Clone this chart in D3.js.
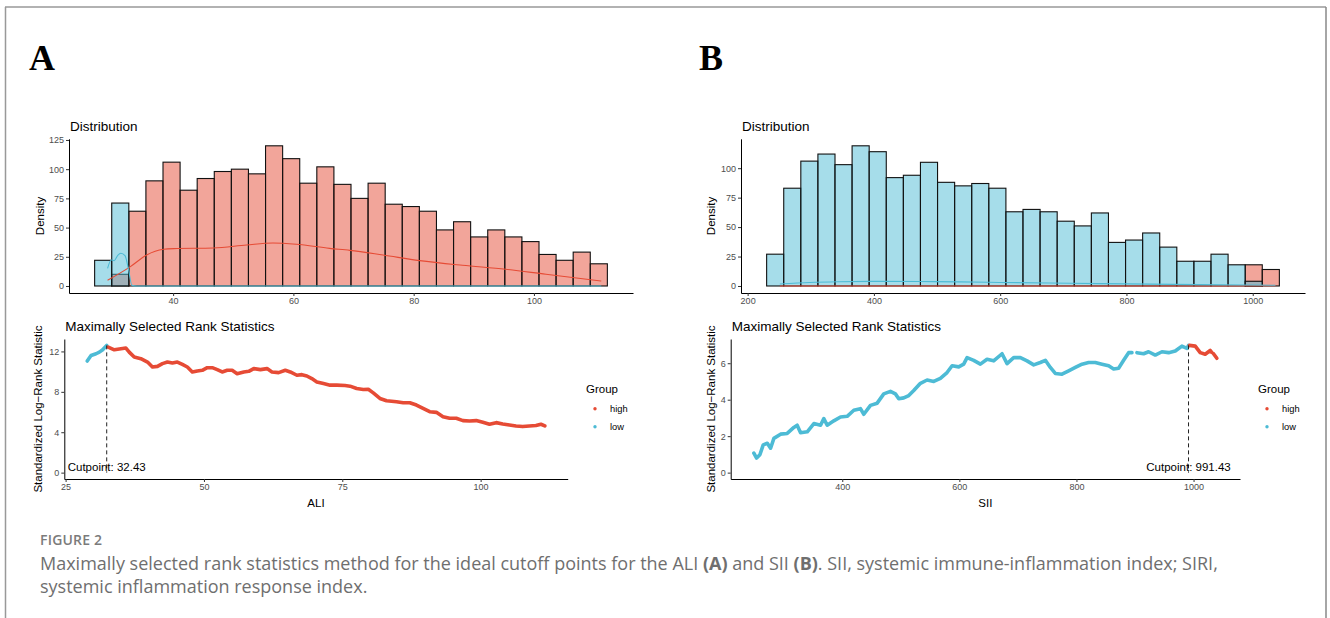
<!DOCTYPE html>
<html>
<head>
<meta charset="utf-8">
<script src="https://cdn.jsdelivr.net/npm/d3@7"></script>
<style>
  body { margin: 0; background: #fff; }
  svg text { font-family: "Liberation Sans", Arial, sans-serif; }
</style>
</head>
<body>
<svg id="fig" width="1330" height="618"></svg>
<script>
// ---- histogram data (30 bins each, counts) ----
const aliBinStart = 26.95;
const aliBinWidth = 2.842;
const aliLowCounts = [22, 71, 0, 0, 0, 0, 0, 0, 0, 0, 0, 0, 0, 0, 0, 0, 0, 0, 0, 0, 0, 0, 0, 0, 0, 0, 0, 0, 0, 0];
const aliHighCounts = [0, 10, 64, 90, 106, 82, 92, 98, 100, 96, 120, 109, 88, 102, 87, 75, 88, 70, 68, 64, 48, 55, 42, 48, 42, 38, 27, 22, 29, 19];

const siiBinStart = 230.1;
const siiBinWidth = 27.07;
const siiLowCounts = [27, 83, 106, 112, 103, 119, 114, 92, 94, 105, 88, 85, 87, 83, 63, 65, 63, 55, 51, 62, 37, 39, 45, 33, 21, 21, 27, 18, 4, 0];
const siiHighCounts = [0, 0, 0, 0, 0, 0, 0, 0, 0, 0, 0, 0, 0, 0, 0, 0, 0, 0, 0, 0, 0, 0, 0, 0, 0, 0, 0, 0, 18, 14];

// density curves drawn over the histograms [x, y]
const aliHighDensity = [[29.1, 4.9], [32.9, 16.6], [35.6, 26.5], [38.4, 31.4], [40.1, 32], [46.7, 32.5], [52.2, 35.1], [56.6, 36.8], [60.5, 35.7], [66.0, 32.2], [69.4, 30.5], [74.9, 26.5], [81.0, 21.7], [88.1, 17.7], [95.3, 14.3], [102.0, 10], [111.2, 4.3]];
const aliLowDensity = [[29.1, 15.1], [29.7, 22.3], [30.2, 21.7], [30.8, 26.3], [31.3, 28], [32.0, 26], [32.6, 13.7], [33.15, 0.5], [34, 0], [111.2, 0]];
const siiLowDensity = [[251, 1.7], [298.6, 3.0], [346, 3.6], [409, 3.9], [472.6, 3.8], [536, 3.5], [599, 3.0], [678, 2.5], [757, 2.0], [836.6, 1.6], [915.7, 1.2], [994.8, 0.8], [1036, 0.6]];
const siiHighDensity = [[251, 0], [900, 0], [1036, 0.3]];

// ---- maximally selected rank statistics [x, statistic] ----
const aliCutpoint = 32.43;
const aliRankLow = [[28.9, 11.05], [29.6, 11.6], [30.5, 11.77], [31.1, 11.93], [31.7, 12.16], [32.43, 12.6]];
const aliRankHigh = [[32.7, 12.43], [33.8, 12.16], [35.0, 12.26], [35.9, 12.33], [36.5, 11.93], [37.4, 11.44], [38.6, 11.28], [39.8, 10.95], [40.7, 10.46], [41.6, 10.52], [42.5, 10.79], [43.4, 10.95], [44.3, 10.85], [45.2, 10.95], [46.1, 10.72], [47.0, 10.46], [47.9, 9.97], [48.8, 10.07], [49.7, 10.13], [50.6, 10.39], [51.5, 10.39], [52.4, 10.2], [53.3, 9.97], [54.2, 10.13], [55.1, 10.13], [56.0, 9.8], [57.2, 9.97], [58.1, 10.03], [59.0, 10.3], [60.2, 10.2], [61.4, 10.3], [62.3, 9.97], [63.5, 9.9], [64.7, 10.13], [65.6, 9.97], [66.8, 9.64], [67.7, 9.7], [68.6, 9.57], [69.5, 9.31], [70.4, 8.98], [71.6, 8.82], [72.8, 8.66], [74.0, 8.66], [75.5, 8.62], [76.4, 8.56], [77.6, 8.33], [78.8, 8.23], [79.7, 8.26], [80.6, 7.9], [81.8, 7.34], [83.0, 7.11], [84.8, 7.02], [86.0, 6.92], [87.2, 6.92], [88.4, 6.69], [89.6, 6.36], [90.8, 6.03], [92.0, 5.97], [93.2, 5.54], [94.4, 5.38], [95.6, 5.38], [96.8, 5.15], [98.0, 5.11], [99.2, 5.15], [100.4, 4.98], [101.6, 4.79], [102.8, 4.95], [104.0, 4.82], [105.2, 4.72], [106.4, 4.62], [107.6, 4.56], [108.8, 4.62], [110.0, 4.66], [110.9, 4.79], [111.6, 4.62]];

const siiCutpoint = 991.43;
const siiRankLow = [[249, 1.07], [253.7, 0.8], [259.3, 0.98], [265, 1.52], [272, 1.61], [277.6, 1.34], [283.2, 1.88], [294.6, 2.11], [306, 2.15], [317.3, 2.48], [323, 2.6], [328.8, 2.19], [340.2, 2.24], [351.5, 2.69], [362.9, 2.6], [368.5, 2.96], [374.3, 2.6], [385.6, 2.84], [397, 3.05], [408.4, 3.09], [419.7, 3.42], [431.1, 3.51], [436.8, 3.2], [448.2, 3.69], [459.6, 3.81], [470.9, 4.32], [482.3, 4.46], [490.8, 4.32], [496.5, 4.05], [505, 4.1], [513.6, 4.23], [522.1, 4.5], [533.5, 4.9], [544.9, 5.08], [556.3, 5.0], [567.6, 5.17], [579, 5.49], [587.6, 5.86], [598.9, 5.8], [607.4, 5.95], [613.2, 6.31], [624.5, 6.16], [635.9, 5.95], [647.3, 6.22], [658.6, 6.13], [672.9, 6.52], [681.5, 5.98], [692.8, 6.31], [704.2, 6.31], [715.6, 6.13], [727, 5.91], [738.3, 6.04], [746.9, 6.16], [755.4, 5.77], [763.9, 5.44], [775.3, 5.4], [786.7, 5.58], [798.1, 5.77], [809.5, 5.95], [820.8, 6.04], [832.2, 6.04], [843.6, 5.95], [855, 5.86], [863.5, 5.68], [872, 5.73], [880.6, 6.16], [889.1, 6.58], [894.8, 6.58], null, [903.3, 6.58], [914.7, 6.52], [923.2, 6.63], [934.6, 6.45], [946, 6.63], [957.4, 6.58], [968.8, 6.67], [980.1, 6.94], [988.7, 6.81], [991.43, 6.98]];
const siiRankHigh = [[993, 6.98], [1002.9, 6.94], [1011.4, 6.58], [1019.9, 6.49], [1028.4, 6.7], [1031, 6.6], null, [1034.1, 6.52], [1039.8, 6.27]];

const groups = ['high', 'low'];
const RED = '#E64B35';
const BLUE = '#4DBBD5';

const svg = d3.select('#fig');

// figure frame
svg.append('line').attr('x1', 5).attr('x2', 1326).attr('y1', 7).attr('y2', 7).attr('stroke', '#666').attr('stroke-width', 1.2);
svg.append('line').attr('x1', 5.5).attr('x2', 5.5).attr('y1', 7).attr('y2', 618).attr('stroke', '#999').attr('stroke-width', 1.5);
svg.append('line').attr('x1', 1326).attr('x2', 1326).attr('y1', 7).attr('y2', 618).attr('stroke', '#888').attr('stroke-width', 1.5);

function styleAxis(g) {
  g.select('.domain').attr('stroke', '#000').attr('stroke-width', 1);
  g.selectAll('.tick line').attr('stroke', '#333');
  g.selectAll('.tick text').attr('fill', '#4D4D4D').style('font-size', '9px').style('font-family', '"Liberation Sans", Arial, sans-serif');
}

function drawHist(cfg) {
  const n = cfg.high.length;
  const lo = cfg.binStart, hi = cfg.binStart + n * cfg.binWidth;
  const pad = (hi - lo) * 0.05;
  const x = d3.scaleLinear().domain([lo - pad, hi + pad]).range(cfg.xRange);
  const ymax = d3.max(cfg.high.concat(cfg.low));
  const y = d3.scaleLinear().domain([-ymax * 0.05, ymax * 1.05]).range([293, 138.8]);

  const g = svg.append('g');
  [[cfg.high, RED], [cfg.low, BLUE]].forEach(([counts, col]) => {
    g.append('g').selectAll('rect')
      .data(counts.map((c, i) => ({ c, i })).filter(d => d.c > 0))
      .join('rect')
      .attr('x', d => x(cfg.binStart + d.i * cfg.binWidth))
      .attr('width', d => x(cfg.binStart + (d.i + 1) * cfg.binWidth) - x(cfg.binStart + d.i * cfg.binWidth))
      .attr('y', d => y(d.c))
      .attr('height', d => y(0) - y(d.c))
      .attr('fill', col).attr('fill-opacity', 0.5)
      .attr('stroke', '#111').attr('stroke-width', 1.1);
  });

  const line = d3.line().x(d => x(d[0])).y(d => y(d[1])).curve(d3.curveMonotoneX);
  g.append('path').attr('d', line(cfg.highDens)).attr('fill', 'none').attr('stroke', RED).attr('stroke-width', 1.1);
  g.append('path').attr('d', line(cfg.lowDens)).attr('fill', 'none').attr('stroke', BLUE).attr('stroke-width', 1.1);

  g.append('g').attr('transform', 'translate(0,293)')
    .call(d3.axisBottom(x).tickValues(cfg.xTicks).tickFormat(d3.format('d')).tickSize(3).tickSizeOuter(0).tickPadding(2))
    .call(styleAxis);
  g.append('g').attr('transform', `translate(${cfg.xRange[0]},0)`)
    .call(d3.axisLeft(y).tickValues(cfg.yTicks).tickFormat(d3.format('d')).tickSize(3).tickSizeOuter(0).tickPadding(2))
    .call(styleAxis);

  g.append('text').attr('x', cfg.xRange[0] + 1).attr('y', 130.5).style('font-size', '13.5px').text('Distribution');
  g.append('text').attr('transform', `translate(${cfg.yLabelX},216) rotate(-90)`)
    .attr('text-anchor', 'middle').style('font-size', '11.5px').text('Density');
}

function drawRank(cfg) {
  const all = cfg.low.concat(cfg.high).filter(d => d);
  const xe = d3.extent(all, d => d[0]);
  const xp = (xe[1] - xe[0]) * 0.05;
  const x = d3.scaleLinear().domain([xe[0] - xp, xe[1] + xp]).range(cfg.xRange);
  const ymax = d3.max(all, d => d[1]);
  const y = d3.scaleLinear().domain([-ymax * 0.05, ymax * 1.05]).range([479, 339]);

  const g = svg.append('g');
  const line = d3.line().defined(d => d).x(d => x(d[0])).y(d => y(d[1]));
  [[cfg.low, BLUE], [cfg.high, RED]].forEach(([pts, col]) => {
    g.append('path').attr('d', line(pts)).attr('fill', 'none').attr('stroke', col)
      .attr('stroke-width', 3.6).attr('stroke-linejoin', 'round').attr('stroke-linecap', 'round');
  });

  g.append('line')
    .attr('x1', x(cfg.cut)).attr('x2', x(cfg.cut))
    .attr('y1', y(ymax)).attr('y2', y(0))
    .attr('stroke', '#222').attr('stroke-width', 1).attr('stroke-dasharray', '4,3');
  g.append('text').attr('x', x(cfg.cut)).attr('y', y(0) - 1.5)
    .attr('text-anchor', 'middle').style('font-size', '11.5px')
    .text('Cutpoint: ' + cfg.cut.toFixed(2));

  g.append('g').attr('transform', 'translate(0,479)')
    .call(d3.axisBottom(x).tickValues(cfg.xTicks).tickFormat(d3.format('d')).tickSize(3).tickSizeOuter(0).tickPadding(2))
    .call(styleAxis);
  g.append('g').attr('transform', `translate(${cfg.xRange[0]},0)`)
    .call(d3.axisLeft(y).tickValues(cfg.yTicks).tickFormat(d3.format('d')).tickSize(3).tickSizeOuter(0).tickPadding(2))
    .call(styleAxis);

  g.append('text').attr('x', cfg.xRange[0] + 1).attr('y', 330.5).style('font-size', '13.5px').text('Maximally Selected Rank Statistics');
  g.append('text').attr('transform', `translate(${cfg.yLabelX},409) rotate(-90)`)
    .attr('text-anchor', 'middle').style('font-size', '11.5px').text('Standardized Log\u2212Rank Statistic');
  g.append('text').attr('x', (cfg.xRange[0] + cfg.xRange[1]) / 2).attr('y', 507)
    .attr('text-anchor', 'middle').style('font-size', '11.5px').text(cfg.xLabel);

  // legend
  const lg = g.append('g').attr('transform', `translate(${cfg.legendX},0)`);
  lg.append('text').attr('x', 0).attr('y', 392.5).style('font-size', '11.5px').text('Group');
  groups.forEach((grp, i) => {
    const yy = 408.7 + i * 18;
    lg.append('circle').attr('cx', 9).attr('cy', yy).attr('r', 1.7).attr('fill', grp === 'high' ? RED : BLUE);
    lg.append('text').attr('x', 24).attr('y', yy + 3.3).style('font-size', '9.3px').text(grp);
  });
}

// panel A
drawHist({ binStart: aliBinStart, binWidth: aliBinWidth, high: aliHighCounts, low: aliLowCounts,
  highDens: aliHighDensity, lowDens: aliLowDensity, xRange: [69, 633], xTicks: [40, 60, 80, 100],
  yTicks: [0, 25, 50, 75, 100, 125], yLabelX: 44 });
drawRank({ low: aliRankLow, high: aliRankHigh, cut: aliCutpoint, xRange: [64.3, 567.7],
  xTicks: [25, 50, 75, 100], yTicks: [0, 4, 8, 12], yLabelX: 42, xLabel: 'ALI', legendX: 586 });

// panel B
drawHist({ binStart: siiBinStart, binWidth: siiBinWidth, high: siiHighCounts, low: siiLowCounts,
  highDens: siiHighDensity, lowDens: siiLowDensity, xRange: [741, 1305], xTicks: [200, 400, 600, 800, 1000],
  yTicks: [0, 25, 50, 75, 100], yLabelX: 714.5 });
drawRank({ low: siiRankLow, high: siiRankHigh, cut: siiCutpoint, xRange: [730.7, 1240],
  xTicks: [400, 600, 800, 1000], yTicks: [0, 2, 4, 6], yLabelX: 714.5, xLabel: 'SII', legendX: 1258 });

// panel letters
[['A', 29], ['B', 699]].forEach(([t, px]) => {
  svg.append('text').attr('x', px).attr('y', 70)
    .style('font-family', '"Liberation Serif", "Times New Roman", serif')
    .style('font-weight', 'bold').style('font-size', '36px').text(t);
});

// caption
const cap = svg.append('g').style('fill', '#6f6f6f');
cap.append('text').attr('x', 40).attr('y', 545).style('font-family', '"Open Sans", sans-serif')
  .style('font-size', '14px').style('font-weight', '600').style('letter-spacing', '0.2px').style('fill', '#7b7b7b').text('FIGURE 2');
const l1 = cap.append('text').attr('x', 40).attr('y', 570).style('font-family', '"Open Sans", sans-serif').style('font-size', '18px');
l1.append('tspan').text('Maximally selected rank statistics method for the ideal cutoff points for the ALI ');
l1.append('tspan').style('font-weight', 'bold').text('(A)');
l1.append('tspan').text(' and SII ');
l1.append('tspan').style('font-weight', 'bold').text('(B)');
l1.append('tspan').text('. SII, systemic immune-inflammation index; SIRI,');
cap.append('text').attr('x', 40).attr('y', 592.5).style('font-family', '"Open Sans", sans-serif').style('font-size', '18px')
  .text('systemic inflammation response index.');
</script>
</body>
</html>
